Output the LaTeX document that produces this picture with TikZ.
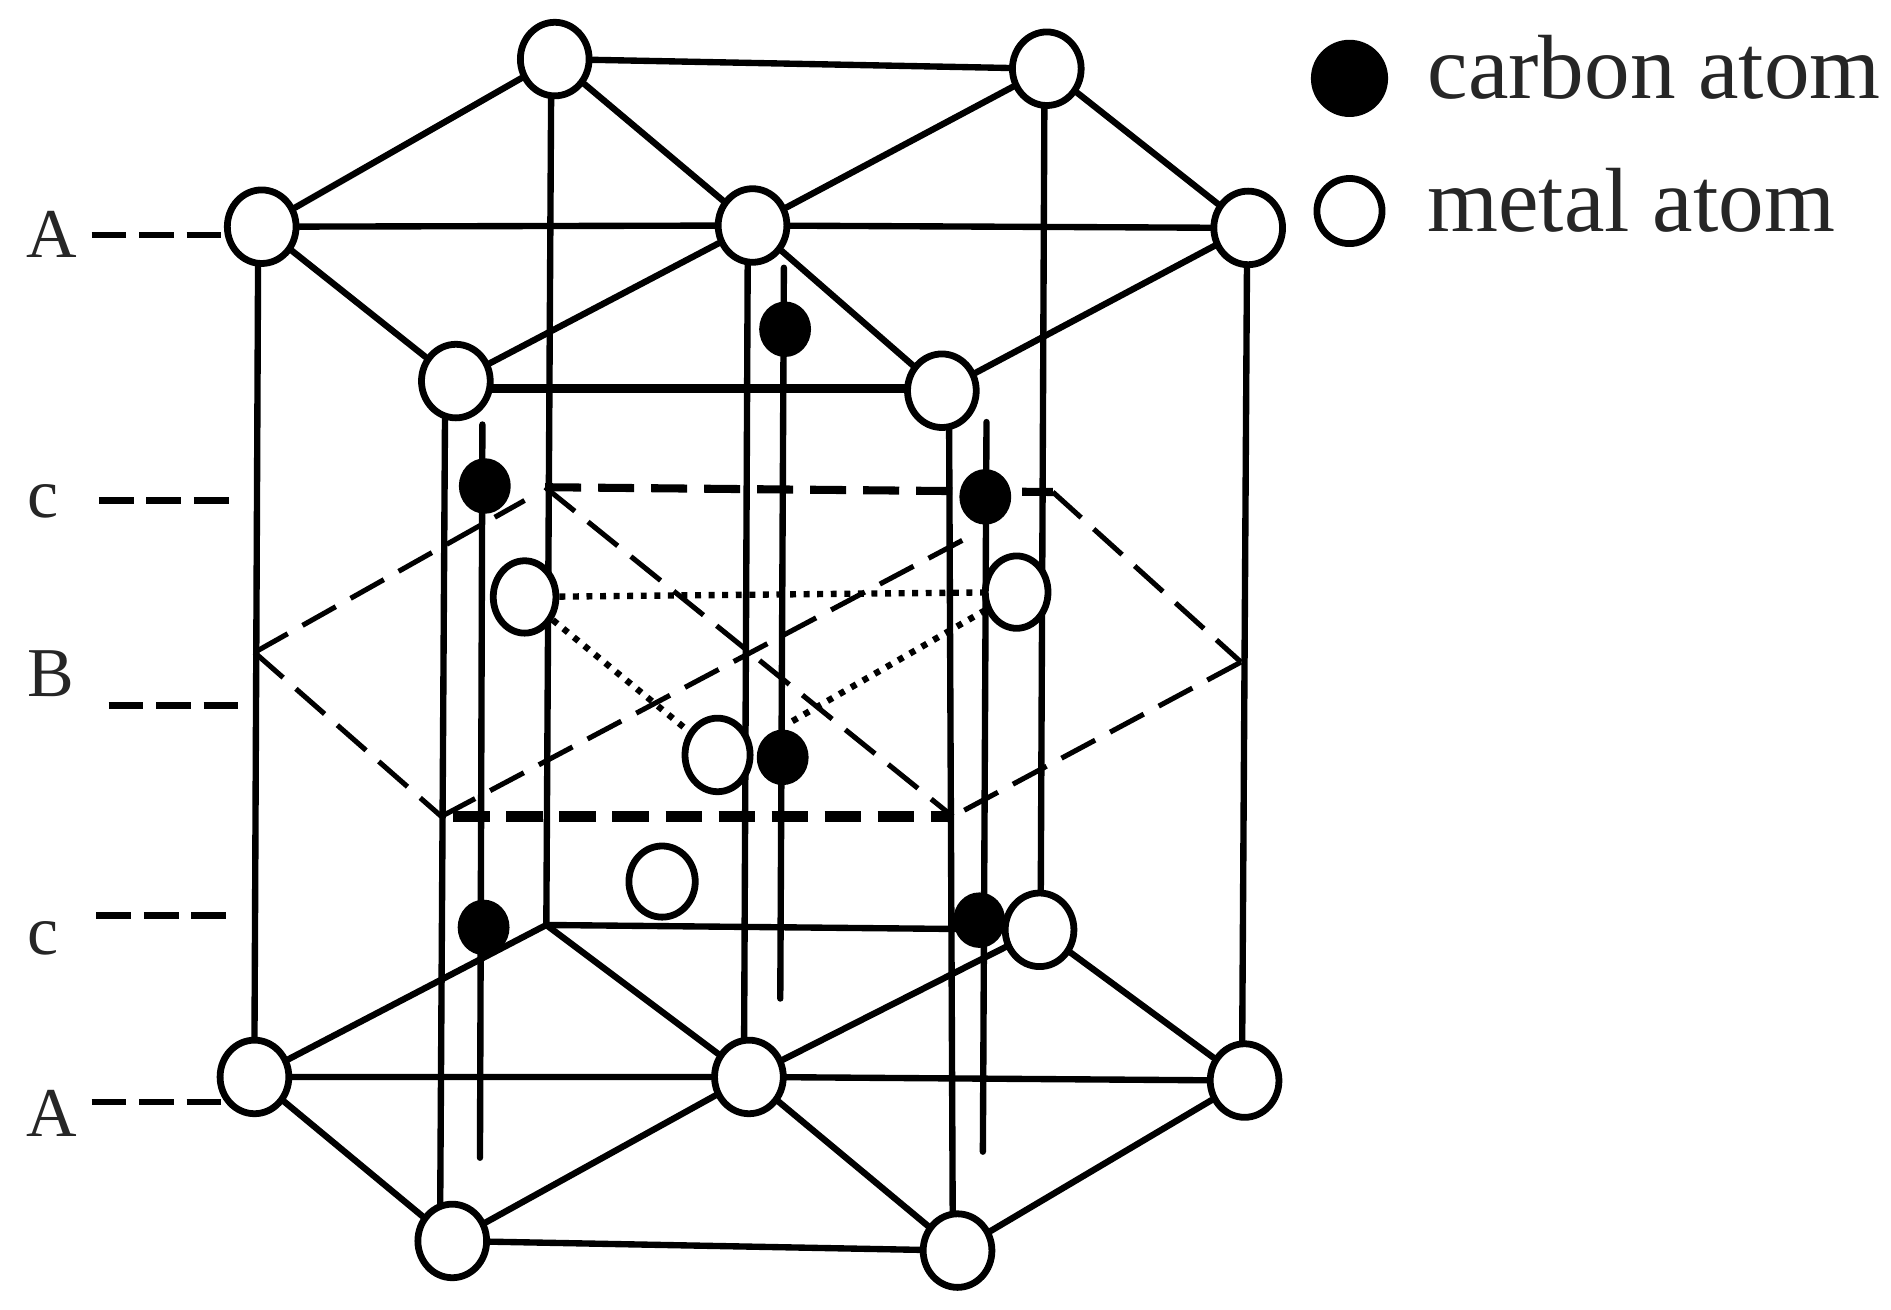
\documentclass[tikz,border=0pt]{standalone}
\usepackage{fontspec}
\setmainfont{Liberation Serif}
\usetikzlibrary{shapes.geometric,backgrounds}
\tikzset{
 x=0.01cm,y=-0.01cm,
 metal/.style={ellipse,draw=black,fill=white,line width=1.6pt,minimum width=57*0.01cm,minimum height=61*0.01cm,inner sep=0pt},
 metalsz/.style 2 args={minimum width=#1*0.01cm,minimum height=#2*0.01cm},
 carbon/.style={ellipse,fill=black,draw=none,minimum width=43*0.01cm,minimum height=46*0.01cm,inner sep=0pt},
 bond/.style={line width=1.5pt,line cap=round},
 thickbond/.style={line width=2.1pt},
 lev/.style={line width=1.5pt,dash pattern=on 8.2pt off 3pt},
 plane/.style={line width=1.2pt,dash pattern=on 9pt off 4pt},
 planetop/.style={line width=1.9pt,dash pattern=on 8.5pt off 4pt},
 planebot/.style={line width=2.5pt,dash pattern=on 8.5pt off 4pt},
 dot/.style={line width=1.5pt,dash pattern=on 1.4pt off 1.8pt},
 lab/.style={inner sep=0pt,font=\fontsize{16.5}{20}\selectfont,text=black!85},
 leg/.style={inner sep=0pt,anchor=west,font=\fontsize{21.5}{26}\selectfont,text=black!85},
}
\begin{document}
\begin{tikzpicture}
\useasboundingbox (0,0) rectangle (1568,1086);
% metal atoms
\node[metal] (A1) at (460,49) {}; \node[metal] (A2) at (868,57) {};
\node[metal] (T1) at (217,188) {}; \node[metal] (T2) at (624,187) {}; \node[metal] (T3) at (1035,189) {};
\node[metal] (F1) at (378,316) {}; \node[metal] (F2) at (781,324) {};
\node[carbon] (C6) at (812,763) {};
\node[metal,metalsz={52}{60}] (M1) at (435,495) {};
\node[metal,metalsz={52}{60}] (M2) at (843,491) {};
\node[metal,metalsz={54}{61}] (M3) at (595,626) {};
\node[metal,metalsz={55}{59}] (M4) at (549,731) {};
\node[metal] (B1) at (862,771) {};
\node[metal] (L1) at (211,893) {}; \node[metal] (L2) at (621,893) {}; \node[metal] (L3) at (1032,896) {};
\node[metal] (G1) at (375,1029) {}; \node[metal] (G2) at (794,1037) {};
% carbon atoms
\node[carbon] (C1) at (402,403) {}; \node[carbon] (C2) at (817,412) {};
\node[carbon] (C3) at (651,273) {}; \node[carbon] (C4) at (649,628) {};
\node[carbon] (C5) at (401,769) {};
% helper points
\coordinate (bb) at (453,767);
\coordinate (p1) at (211,541); \coordinate (p2) at (366,677); \coordinate (p3) at (790,677);
\coordinate (p4) at (1029,549); \coordinate (p5) at (873,408); \coordinate (p6) at (452,404);
\coordinate (p1e) at (435,415); \coordinate (p2e) at (800,447); \coordinate (p2s) at (376,677);
\coordinate (ct1) at (400,352); \coordinate (cb1) at (398,960);
\coordinate (ct2) at (818,350); \coordinate (cb2) at (815,955);
\coordinate (ct3) at (650,222); \coordinate (cb3) at (647,828);
\coordinate (vt1) at (214,218); \coordinate (vb1) at (211,865);
\coordinate (vt3) at (1034,218); \coordinate (vb3) at (1030,868);
\coordinate (va1) at (457,78); \coordinate (va2) at (866,86); \coordinate (vb2) at (863,742);
\coordinate (vt2) at (620,217); \coordinate (vl2) at (617,865);
\coordinate (vf1) at (369,345); \coordinate (vg1) at (365,1003);
\coordinate (vf2) at (787,353); \coordinate (vg2) at (790,1010);
\coordinate (ft1) at (405,322); \coordinate (ft2) at (754,322);
\coordinate (dm) at (657,598);
\begin{pgfonlayer}{background}
% vertical bonds
\draw[bond] (vt1)--(vb1) (vt3)--(vb3) (va1)--(bb) (va2)--(vb2) (vt2)--(vl2) (vf1)--(vg1) (vf2)--(vg2);
% top
\draw[bond] (A1)--(A2) (T1)--(T2) (T2)--(T3);
\draw[bond] (A1)--(T1) (A1)--(T2) (A2)--(T2) (A2)--(T3);
\draw[bond] (T1)--(F1) (T2)--(F1) (T2)--(F2) (T3)--(F2);
\draw[thickbond] (ft1)--(ft2);
% bottom
\draw[bond] (L1)--(L2) (L2)--(L3) (bb)--(B1) (G1)--(G2);
\draw[bond] (L1)--(bb) (bb)--(L2) (L2)--(B1) (B1)--(L3);
\draw[bond] (L1)--(G1) (L2)--(G1) (L2)--(G2) (L3)--(G2);
% carbon columns
\draw[bond] (ct1)--(cb1) (ct2)--(cb2) (ct3)--(cb3);
% dashed plane
\draw[plane] (p5)--(p4);
\draw[plane] (p4)--(p3);
\draw[plane] (p1)--(p2);
\draw[plane] (p1)--(p1e);
\draw[plane] (p6)--(p3);
\draw[plane] (p2)--(p2e);
\draw[planetop] (p6)--(p5);
\draw[planebot] (p2s)--(p3);
% dotted
\draw[dot] (M1)--(M2);
\draw[dot] (M1)--(M3);
\draw[dot] (M2)--(dm);
\end{pgfonlayer}
% labels
\node[lab] (lA1) at (43,194) {A};
\node[lab] (lc1) at (36,416) {c};
\node[lab] (lB) at (42,559) {B};
\node[lab] (lc2) at (36,778) {c};
\node[lab] (lA2) at (43,923) {A};
\coordinate (s1) at (76,195); \coordinate (e1) at (186,195);
\coordinate (s2) at (82,415); \coordinate (e2) at (190,415);
\coordinate (s3) at (90,585); \coordinate (e3) at (198,585);
\coordinate (s4) at (80,759); \coordinate (e4) at (188,759);
\coordinate (s5) at (76,914); \coordinate (e5) at (184,914);
\draw[lev] (s1)--(e1);
\draw[lev] (s2)--(e2);
\draw[lev] (s3)--(e3);
\draw[lev] (s4)--(e4);
\draw[lev] (s5)--(e5);
% legend
\node[carbon,minimum width=64*0.01cm,minimum height=64*0.01cm] (kc) at (1119,65) {};
\node[metal,metalsz={54}{54}] (km) at (1119,175) {};
\node[leg] (lkc) at (1183,56) {carbon atom};
\node[leg] (lkm) at (1183,166) {metal atom};
\end{tikzpicture}
\end{document}
